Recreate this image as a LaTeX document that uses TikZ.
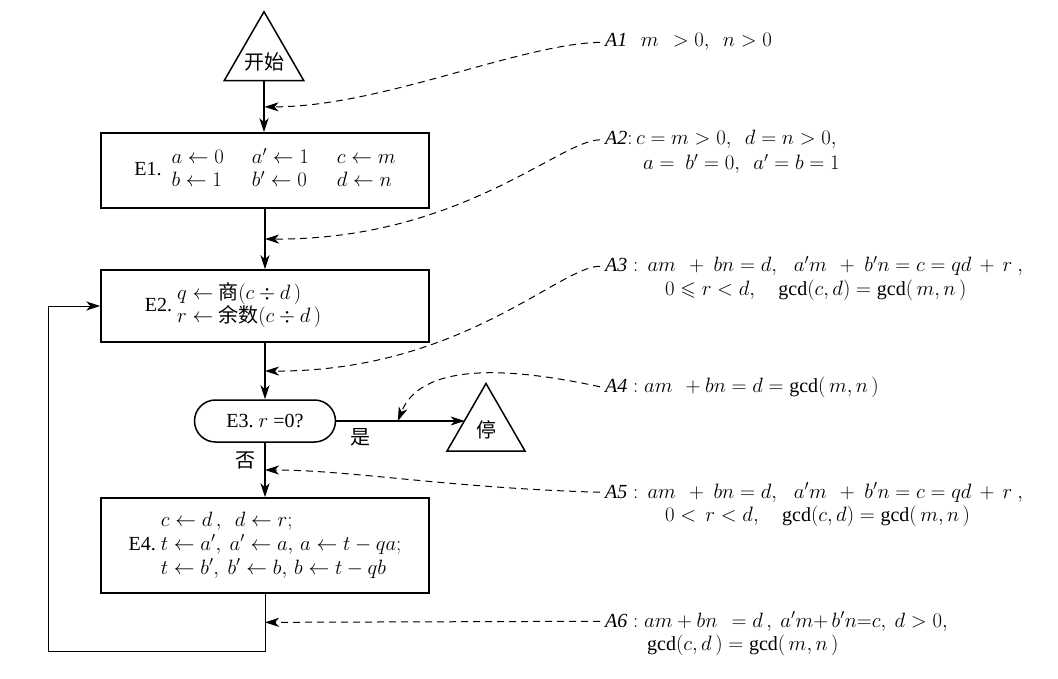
\documentclass[tikz,border=0pt]{standalone}
\usepackage{amsmath,amssymb}
\usepackage{fontspec}
\setmainfont{Liberation Serif}
\newfontfamily\cjk{Noto Sans CJK SC}
\usetikzlibrary{arrows.meta,shapes.geometric,shapes.misc,calc}
\begin{document}
\begin{tikzpicture}[x=1pt,y=-1pt,
  every node/.style={font=\fontsize{20}{23}\selectfont},
  flow/.style={line width=1.2pt,-{Stealth[length=14pt,width=9pt,inset=4pt]}},
  anno/.style={line width=1pt,dash pattern=on 7pt off 5pt,-{Stealth[length=14pt,width=9pt,inset=4pt]}},
  procbox/.style={draw,line width=1.5pt,minimum width=328pt,inner sep=0pt},
  term/.style={draw,line width=1.5pt,regular polygon,regular polygon sides=3,inner sep=0pt},
  note/.style={anchor=base west,inner sep=0pt}]
\useasboundingbox (0,0) rectangle (1058,679);

% flow nodes
\node[term,minimum size=92pt] (start) at (264,57.7) {\makebox[0pt]{\raisebox{-12pt}[0pt][0pt]{\cjk 开始}}};
\node[procbox,minimum height=75pt] (E1) at (265,170.5)
  {E1.~~\begin{tabular}{@{}l@{\hspace{28pt}}l@{\hspace{28pt}}l@{}}$a\leftarrow0$&$a'\leftarrow1$&$c\leftarrow m$\\$b\leftarrow1$&$b'\leftarrow0$&$d\leftarrow n$\end{tabular}};
\node[procbox,minimum height=72pt] (E2) at (265,306)
  {E2.~\begin{tabular}{@{}l@{}}$q\leftarrow$\ {\cjk 商}$(c\div d\,)$\\$r\leftarrow$\ {\cjk 余数}$(c\div d\,)$\end{tabular}\makebox[64pt]{}};
\node[draw,line width=1.5pt,rounded rectangle,minimum width=141pt,minimum height=42pt,inner sep=0pt] (E3) at (265,421) {E3.~$r$~=0?};
\node[term,minimum size=90pt] (stop) at (486,428.5) {\makebox[0pt]{\raisebox{-9pt}[0pt][0pt]{\cjk 停}}};
\node[procbox,minimum height=95pt] (E4) at (265,545.5)
  {E4.~\renewcommand{\arraystretch}{1.04}\begin{tabular}{@{}l@{}}$c\leftarrow d\,,\ \ d\leftarrow r;$\\$t\leftarrow a',\ a'\leftarrow a,\,a\leftarrow t-qa;$\\$t\leftarrow b',\ b'\leftarrow b,\,b\leftarrow t-qb$\end{tabular}};
\node (yes) at (360,437) {\cjk 是};
\node (no) at (245,460) {\cjk 否};

% assertions
\node[note] (A1) at (605,47) {$\mathit{A1}\ \ \,m\ \,>0,\ \ n>0$};
\node[note] (A2) at (605,145) {$\mathit{A2}{:}\,c=m>0,\ \ d=n>0,$};
\node[note] (A2b) at (643,170) {$a=\ b'=0,\ \ a'=b=1$};
\node[note] (A3) at (605,272) {$\mathit{A3}:\,am\ \,+\ bn=d,\ \ \,a'm\ \,+\ b'n=c=qd\,+\,r\ ,$};
\node[note] (A3b) at (665,295) {$0\leqslant r<d,\quad \gcd(c,d)=\gcd(\,m,n\,)$};
\node[note] (A4) at (605,392) {$\mathit{A4}:am\ \,+bn=d=\gcd(\,m,n\,)$};
\node[note] (A5) at (605,498) {$\mathit{A5}:\,am\ \,+\ bn=d,\ \ \,a'm\ \,+\ b'n=c=qd\,+\,r\ ,$};
\node[note] (A5b) at (665,521) {$0<\,r<d,\quad \gcd(c,d)=\gcd(\,m,n\,)$};
\node[note] (A6) at (605,627) {$\mathit{A6}:am+bn\ \,=d\,,\ a'm{+}\,b'n{=}c,\ d>0,$};
\node[note] (A6b) at (647,650) {$\gcd(c,d\,)=\gcd(\,m,n\,)$};

% helper coordinates on the flow lines
\coordinate (p1) at ($(start.south)!0.5!(E1.north)$);
\coordinate (p2) at ($(E1.south)!0.5!(E2.north)$);
\coordinate (p3) at ($(E2.south)!0.5!(E3.north)$);
\coordinate (p5) at ($(E3.south)!0.5!(E4.north)$);
\coordinate (lc) at (48,651);
\coordinate (p6) at ($(E4.south)!0.5!(E4.south |- lc)$);
\coordinate (stopin) at ($(stop.corner 1)!0.53!(stop.corner 2)$);
\coordinate (p4) at ($(E3.east)!0.48!(E3.east -| stopin)$);

% flow connectors
\draw[flow] (start.south) -- (start.south |- E1.north);
\draw[flow] (E1.south) -- (E2.north);
\draw[flow] (E2.south) -- (E3.north);
\draw[flow] (E3.south) -- (E4.north);
\draw[flow] (E3.east) -- (E3.east -| stopin);
\draw[flow,line width=1pt] (E4.south) |- (lc) |- (E2.west);

% assertion connectors
\draw[anno] ([xshift=-5pt]A1.west) .. controls (520,44) and (380,107) .. (p1);
\draw[anno] ([xshift=-5pt]A2.west) .. controls (560,140) and (460,240) .. (p2);
\draw[anno] ([xshift=-5pt]A3.west) .. controls (560,266) and (460,372) .. (p3);
\draw[anno] ([xshift=-5pt]A4.west) .. controls (500,365) and (420,365) .. (p4);
\draw[anno] ([xshift=-5pt]A5.west) .. controls (450,488) and (350,470) .. (p5);
\draw[anno] ([xshift=-5pt]A6.west) -- (p6);
\end{tikzpicture}
\end{document}
